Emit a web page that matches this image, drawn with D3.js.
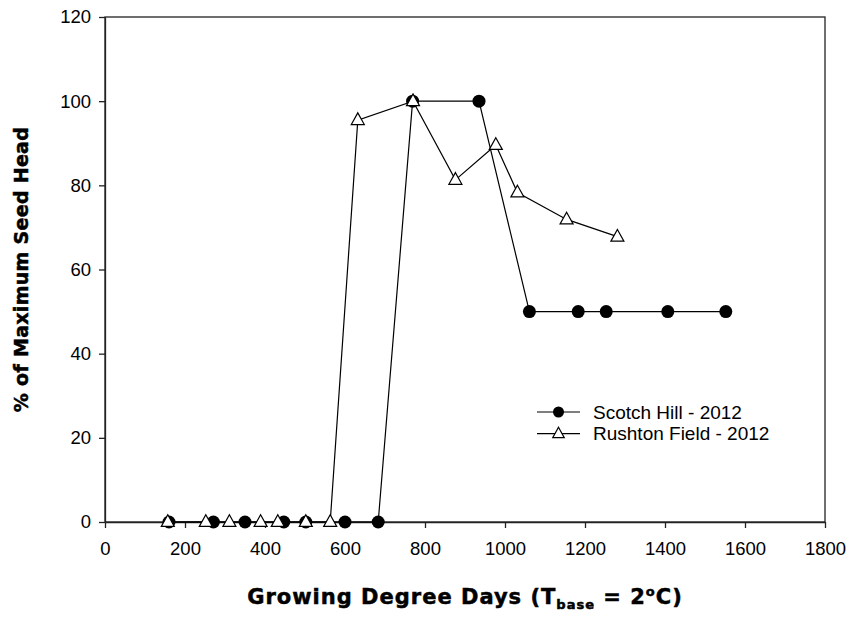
<!DOCTYPE html>
<html>
<head>
<meta charset="utf-8">
<script src="https://cdn.jsdelivr.net/npm/d3@7"></script>
<style>
  html, body { margin: 0; padding: 0; background: #fff; }
  svg { display: block; }
</style>
</head>
<body>
<svg id="chart" width="851" height="617"></svg>
<script>
// Growing degree days (T base = 2 °C) and % of maximum seed head per site
const scotchHillGDD = [160, 271, 350, 447, 502, 600, 683, 769, 935, 1061, 1183, 1253, 1407, 1552];
const scotchHillPct = [0, 0, 0, 0, 0, 0, 0, 100, 100, 50, 50, 50, 50, 50];
const rushtonGDD = [157, 252, 311, 389, 432, 502, 563, 632, 770, 876, 977, 1031, 1154, 1281];
const rushtonPct = [0, 0, 0, 0, 0, 0, 0, 95.5, 100, 81.3, 89.6, 78.3, 71.9, 67.8];
const xTicks = [0, 200, 400, 600, 800, 1000, 1200, 1400, 1600, 1800];
const yTicks = [0, 20, 40, 60, 80, 100, 120];
const seriesNames = ["Scotch Hill - 2012", "Rushton Field - 2012"];

const svg = d3.select("#chart");
const plotLeft = 105, plotRight = 825, plotTop = 17, plotBottom = 522;

const x = d3.scaleLinear().domain([0, 1800]).range([plotLeft, plotRight]);
const y = d3.scaleLinear().domain([0, 120]).range([plotBottom, plotTop]);

const tickFont = "'Liberation Sans', Arial, sans-serif";
const axisColor = "#222";

// frame
svg.append("rect")
  .attr("x", plotLeft).attr("y", plotTop)
  .attr("width", plotRight - plotLeft).attr("height", plotBottom - plotTop)
  .attr("fill", "none").attr("stroke", axisColor).attr("stroke-width", 1.3);

// x axis
const xAxis = svg.append("g")
  .attr("transform", `translate(0,${plotBottom})`)
  .call(d3.axisBottom(x).tickValues(xTicks).tickFormat(d3.format("d"))
    .tickSize(6).tickSizeOuter(0).tickPadding(14));
xAxis.select(".domain").attr("stroke", axisColor).attr("stroke-width", 1.3);
xAxis.selectAll(".tick line").attr("stroke", axisColor).attr("stroke-width", 1.3);
xAxis.selectAll(".tick text")
  .attr("font-family", tickFont).attr("font-size", 18.5).attr("fill", "#000");

// y axis
const yAxis = svg.append("g")
  .attr("transform", `translate(${plotLeft},0)`)
  .call(d3.axisLeft(y).tickValues(yTicks).tickFormat(d3.format("d"))
    .tickSize(6).tickSizeOuter(0).tickPadding(8));
yAxis.select(".domain").attr("stroke", axisColor).attr("stroke-width", 1.3);
yAxis.selectAll(".tick line").attr("stroke", axisColor).attr("stroke-width", 1.3);
yAxis.selectAll(".tick text")
  .attr("font-family", tickFont).attr("font-size", 18.5).attr("fill", "#000");

const line = d3.line().x(d => x(d[0])).y(d => y(d[1]));
const scotch = d3.zip(scotchHillGDD, scotchHillPct);
const rushton = d3.zip(rushtonGDD, rushtonPct);

const triPath = (s) => {
  const h = s * 0.9;
  return `M0,${-h * 0.62}L${s / 2},${h * 0.38}L${-s / 2},${h * 0.38}Z`;
};

// Scotch Hill series
svg.append("path").datum(scotch)
  .attr("d", line).attr("fill", "none").attr("stroke", "#000").attr("stroke-width", 1.2);
svg.append("g").selectAll("circle").data(scotch).join("circle")
  .attr("cx", d => x(d[0])).attr("cy", d => y(d[1])).attr("r", 6.5)
  .attr("fill", "#000");

// Rushton Field series
svg.append("path").datum(rushton)
  .attr("d", line).attr("fill", "none").attr("stroke", "#000").attr("stroke-width", 1.2);
svg.append("g").selectAll("path").data(rushton).join("path")
  .attr("transform", d => `translate(${x(d[0])},${y(d[1])})`)
  .attr("d", triPath(13))
  .attr("fill", "#fff").attr("stroke", "#000").attr("stroke-width", 1.2);

// legend
const lg = svg.append("g").attr("transform", "translate(537,412)");
seriesNames.forEach((name, i) => {
  const row = lg.append("g").attr("transform", `translate(0,${i * 21.7})`);
  row.append("line").attr("x1", 0).attr("x2", 43).attr("y1", 0).attr("y2", 0)
    .attr("stroke", "#000").attr("stroke-width", 1.2);
  if (i === 0) {
    row.append("circle").attr("cx", 21.5).attr("cy", 0).attr("r", 5.5).attr("fill", "#000");
  } else {
    row.append("path").attr("transform", "translate(21.5,0)").attr("d", triPath(11.5))
      .attr("fill", "#fff").attr("stroke", "#000").attr("stroke-width", 1.2);
  }
  row.append("text").attr("x", 56).attr("y", 0).attr("dy", "0.35em")
    .attr("font-family", tickFont).attr("font-size", 19).attr("fill", "#000")
    .text(name);
});

// axis titles
const titleFont = "'DejaVu Sans', sans-serif";
const xt = svg.append("text")
  .attr("x", (plotLeft + plotRight) / 2).attr("y", 604)
  .attr("text-anchor", "middle")
  .attr("font-family", titleFont).attr("font-weight", "bold").attr("font-size", 21)
  .attr("letter-spacing", 1)
  .attr("fill", "#000").attr("stroke", "#000").attr("stroke-width", 0.5);
xt.append("tspan").text("Growing Degree Days (T");
xt.append("tspan").attr("font-size", 13).attr("dy", 5).text("base");
xt.append("tspan").attr("dy", -5).text(" = 2");
xt.append("tspan").attr("font-size", 13).attr("dy", -8).text("o");
xt.append("tspan").attr("dy", 8).text("C)");

svg.append("text")
  .attr("transform", `translate(28,${(plotTop + plotBottom) / 2}) rotate(-90)`)
  .attr("text-anchor", "middle")
  .attr("font-family", titleFont).attr("font-weight", "bold").attr("font-size", 19)
  .attr("letter-spacing", 0.3)
  .attr("fill", "#000").attr("stroke", "#000").attr("stroke-width", 0.5)
  .text("% of Maximum Seed Head");
</script>
</body>
</html>
